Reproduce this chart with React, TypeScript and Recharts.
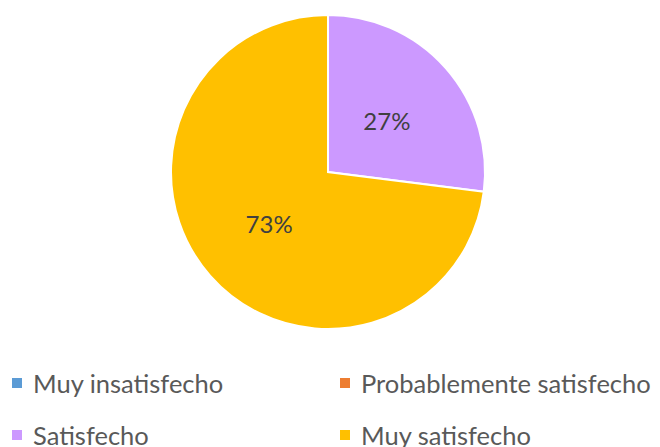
import { PieChart, Pie, Cell, Legend } from "recharts";

const categories = ["Muy insatisfecho", "Probablemente satisfecho", "Satisfecho", "Muy satisfecho"];
const values = [0, 0, 27, 73];
const colors = ["#5B9BD5", "#ED7D31", "#CC99FF", "#FFC000"];

const data = categories.map((name, i) => ({ name, value: values[i] }));

const FONT = "Lato, 'Open Sans', sans-serif";

const renderLabel = (props: any) => {
    const { cx, cy, midAngle, outerRadius, value } = props;
    if (!value) return null;
    const r = outerRadius * 0.5;
    const rad = (Math.PI / 180) * midAngle;
    const x = cx + r * Math.cos(rad);
    const y = cy - r * Math.sin(rad);
    return (
        <text x={x} y={y} fill="#404040" fontSize={24} fontFamily={FONT} textAnchor="middle" dominantBaseline="central">
            {`${value}%`}
        </text>
    );
};

const renderLegend = () => (
    <div
        style={{
            display: "grid",
            gridTemplateColumns: "328px 332px",
            rowGap: 22,
            fontFamily: FONT,
            fontSize: 25.5,
            color: "#595959",
        }}
    >
        {categories.map((name, i) => (
            <div key={name} style={{ display: "flex", alignItems: "center", paddingLeft: 12, height: 30, whiteSpace: "nowrap" }}>
                <span style={{ width: 10, height: 10, background: colors[i], display: "inline-block", marginRight: 11, flexShrink: 0 }} />
                <span>{name}</span>
            </div>
        ))}
    </div>
);

export default function App() {
    return (
        <div style={{ position: "absolute", left: 0, top: 0 }}>
            <PieChart width={660} height={447} margin={{ top: 0, right: 0, bottom: 0, left: 0 }}>
                <Pie
                    data={data}
                    dataKey="value"
                    nameKey="name"
                    cx={328}
                    cy={172}
                    outerRadius={157}
                    startAngle={90}
                    endAngle={-270}
                    stroke="#ffffff"
                    strokeWidth={2}
                    label={renderLabel}
                    labelLine={false}
                    isAnimationActive={false}
                >
                    {data.map((d, i) => (
                        <Cell key={d.name} fill={colors[i]} />
                    ))}
                </Pie>
                <Legend content={renderLegend} wrapperStyle={{ left: 0, top: 368, width: 660 }} />
            </PieChart>
        </div>
    );
}
